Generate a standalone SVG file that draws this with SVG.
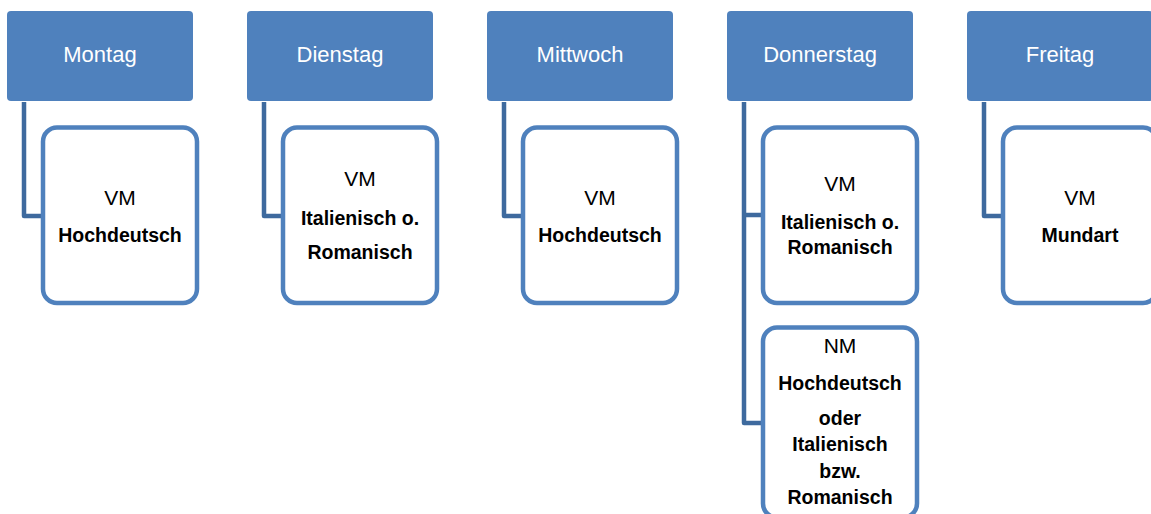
<svg xmlns="http://www.w3.org/2000/svg" width="1151" height="514" viewBox="0 0 1151 514">
<style>
.hd{fill:#4F81BD}
.hdt{fill:#FFFFFF;font-family:"Liberation Sans",Arial,sans-serif;font-size:22px;text-anchor:middle}
.ch{fill:#FFFFFF;stroke:#4F81BD;stroke-width:4.5}
.t{fill:#000000;font-family:"Liberation Sans",Arial,sans-serif;font-size:21px;text-anchor:middle}
.b{font-weight:bold;font-size:19.5px}
.cn{fill:none;stroke:#3E6A9E;stroke-width:4.5;stroke-linejoin:round}
</style>
<g id="connectors">
<path class="cn" d="M24 102 V216 H41"/>
<path class="cn" d="M264 102 V216 H281"/>
<path class="cn" d="M504 102 V216 H521"/>
<path class="cn" d="M744 102 V423 H761 M744 215 H761"/>
<path class="cn" d="M984 102 V216 H1001"/>
</g>
<g id="montag">
<rect class="hd" x="7" y="11" width="186" height="90" rx="4"/>
<text class="hdt" x="100" y="62">Montag</text>
</g>
<g id="montag-vm">
<rect class="ch" x="43" y="127.5" width="154" height="175.5" rx="14"/>
<text class="t" x="120" y="205">VM</text>
<text class="t b" x="120" y="242">Hochdeutsch</text>
</g>
<g id="dienstag">
<rect class="hd" x="247" y="11" width="186" height="90" rx="4"/>
<text class="hdt" x="340" y="62">Dienstag</text>
</g>
<g id="dienstag-vm">
<rect class="ch" x="283" y="127.5" width="154" height="175.5" rx="14"/>
<text class="t" x="360" y="186">VM</text>
<text class="t b" x="360" y="225">Italienisch o.</text>
<text class="t b" x="360" y="259">Romanisch</text>
</g>
<g id="mittwoch">
<rect class="hd" x="487" y="11" width="186" height="90" rx="4"/>
<text class="hdt" x="580" y="62">Mittwoch</text>
</g>
<g id="mittwoch-vm">
<rect class="ch" x="523" y="127.5" width="154" height="175.5" rx="14"/>
<text class="t" x="600" y="205">VM</text>
<text class="t b" x="600" y="242">Hochdeutsch</text>
</g>
<g id="donnerstag">
<rect class="hd" x="727" y="11" width="186" height="90" rx="4"/>
<text class="hdt" x="820" y="62">Donnerstag</text>
</g>
<g id="donnerstag-vm">
<rect class="ch" x="763" y="127.5" width="154" height="175.5" rx="14"/>
<text class="t" x="840" y="191">VM</text>
<text class="t b" x="840" y="229">Italienisch o.</text>
<text class="t b" x="840" y="254">Romanisch</text>
</g>
<g id="donnerstag-nm">
<rect class="ch" x="763" y="327.5" width="154" height="190" rx="14"/>
<text class="t" x="840" y="353">NM</text>
<text class="t b" x="840" y="390">Hochdeutsch</text>
<text class="t b" x="840" y="425">oder</text>
<text class="t b" x="840" y="451">Italienisch</text>
<text class="t b" x="840" y="478">bzw.</text>
<text class="t b" x="840" y="504">Romanisch</text>
</g>
<g id="freitag">
<rect class="hd" x="967" y="11" width="186" height="90" rx="4"/>
<text class="hdt" x="1060" y="62">Freitag</text>
</g>
<g id="freitag-vm">
<rect class="ch" x="1003" y="127.5" width="154" height="175.5" rx="14"/>
<text class="t" x="1080" y="205">VM</text>
<text class="t b" x="1080" y="242">Mundart</text>
</g>
</svg>
